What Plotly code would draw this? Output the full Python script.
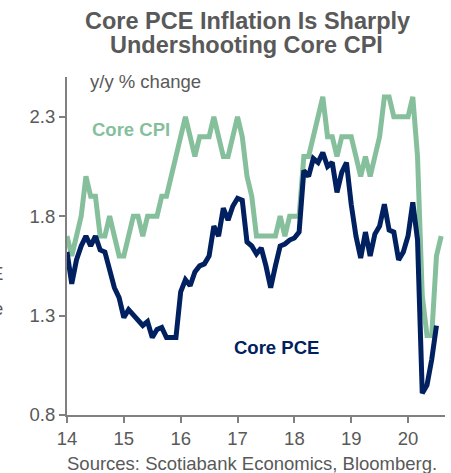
import plotly.graph_objects as go

# Monthly y/y % change, Jan 2014 - Aug 2020 (CPI) / Jul 2020 (PCE)
years = list(range(2014, 2021))

core_cpi = [
    1.7, 1.6, 1.7, 1.8, 2.0, 1.9, 1.9, 1.7, 1.7, 1.8, 1.7, 1.6,  # 2014
    1.6, 1.7, 1.8, 1.8, 1.7, 1.8, 1.8, 1.8, 1.9, 1.9, 2.0, 2.1,  # 2015
    2.2, 2.3, 2.2, 2.1, 2.2, 2.2, 2.2, 2.3, 2.2, 2.1, 2.1, 2.2,  # 2016
    2.3, 2.2, 2.0, 1.9, 1.7, 1.7, 1.7, 1.7, 1.7, 1.8, 1.7, 1.8,  # 2017
    1.8, 1.8, 2.1, 2.1, 2.2, 2.3, 2.4, 2.2, 2.2, 2.1, 2.2, 2.2,  # 2018
    2.2, 2.1, 2.0, 2.1, 2.0, 2.1, 2.2, 2.4, 2.4, 2.3, 2.3, 2.3,  # 2019
    2.3, 2.4, 2.1, 1.4, 1.2, 1.2, 1.6, 1.7,                      # 2020
]

core_pce = [
    1.62, 1.46, 1.58, 1.65, 1.70, 1.65, 1.70, 1.63, 1.62, 1.54, 1.44, 1.39,  # 2014
    1.29, 1.33, 1.30, 1.28, 1.25, 1.27, 1.19, 1.23, 1.24, 1.19, 1.19, 1.19,  # 2015
    1.42, 1.48, 1.45, 1.52, 1.55, 1.56, 1.60, 1.75, 1.70, 1.84, 1.78, 1.85,  # 2016
    1.89, 1.88, 1.67, 1.65, 1.61, 1.64, 1.55, 1.44, 1.55, 1.65, 1.66, 1.68,  # 2017
    1.69, 1.72, 2.03, 2.00, 2.09, 2.07, 2.12, 2.05, 2.07, 1.92, 2.02, 2.07,  # 2018
    1.86, 1.70, 1.59, 1.72, 1.60, 1.71, 1.75, 1.86, 1.73, 1.72, 1.58, 1.62,  # 2019
    1.70, 1.87, 1.68, 0.91, 0.95, 1.08, 1.25,                                # 2020
]

y_ticks = [0.8, 1.3, 1.8, 2.3]
x_tick_labels = [str(y % 100) for y in years]


def month_axis(n):
    return [2014 + i / 12 for i in range(n)]


CPI_COLOR = "#86bf9c"
PCE_COLOR = "#002060"
GREY = "#595959"
AXIS_GREY = "#808080"
FONT = "Liberation Sans, Arial, sans-serif"

fig = go.Figure()
fig.add_trace(go.Scatter(
    x=month_axis(len(core_cpi)), y=core_cpi, mode="lines",
    line=dict(color=CPI_COLOR, width=5), name="Core CPI", showlegend=False,
))
fig.add_trace(go.Scatter(
    x=month_axis(len(core_pce)), y=core_pce, mode="lines",
    line=dict(color=PCE_COLOR, width=5), name="Core PCE", showlegend=False,
))

W, H = 451, 473
L, R, T, B = 67, 6, 77, 58
plot_h = H - T - B


def py(pix):
    """Pixel row -> paper y."""
    return (H - B - pix) / plot_h


def px(pix):
    """Pixel column -> paper x."""
    return (pix - L) / (W - L - R)


annotations = [
    dict(text="<b>Core PCE Inflation Is Sharply</b>", x=px(247), y=py(21),
         font=dict(size=23.5, color=GREY)),
    dict(text="<b>Undershooting Core CPI</b>", x=px(246), y=py(45),
         font=dict(size=23.5, color=GREY)),
    dict(text="y/y % change", x=px(88), y=py(82), xanchor="left",
         font=dict(size=18.5, color=GREY)),
    dict(text="Sources: Scotiabank Economics, Bloomberg.", x=px(252), y=py(463),
         font=dict(size=18.5, color=GREY)),
    dict(text="<b>Core CPI</b>", x=2015.13, y=2.235, xref="x", yref="y",
         font=dict(size=18.5, color=CPI_COLOR)),
    dict(text="<b>Core PCE</b>", x=2017.68, y=1.142, xref="x", yref="y",
         font=dict(size=18.5, color=PCE_COLOR)),
    dict(text="E", x=px(5), y=py(273), xanchor="right",
         font=dict(size=18.5, color=GREY)),
    dict(text="e", x=px(5), y=py(308), xanchor="right",
         font=dict(size=18.5, color=GREY)),
]
for a in annotations:
    a.setdefault("xref", "paper")
    a.setdefault("yref", "paper")
    a.setdefault("xanchor", "center")
    a.setdefault("yanchor", "middle")
    a["showarrow"] = False

fig.update_layout(
    width=W, height=H,
    margin=dict(l=L, r=R, t=T, b=B, pad=0),
    paper_bgcolor="white", plot_bgcolor="white",
    font=dict(family=FONT, size=18.5, color=GREY),
    annotations=annotations,
    xaxis=dict(
        range=[2014, 2020.65], tickvals=years, ticktext=x_tick_labels,
        showgrid=False, zeroline=False, showline=True, linecolor=AXIS_GREY,
        linewidth=2, ticks="outside", ticklen=6, tickwidth=2, tickcolor=AXIS_GREY,
        tickfont=dict(size=18.5, color=GREY),
    ),
    yaxis=dict(
        range=[0.8, 2.5], tickvals=y_ticks, ticktext=[f"{v:.1f}" for v in y_ticks],
        showgrid=False, zeroline=False, showline=True, linecolor=AXIS_GREY,
        linewidth=2, ticks="outside", ticklen=6, tickwidth=2, tickcolor=AXIS_GREY,
        tickfont=dict(size=18.5, color=GREY),
    ),
)

fig.write_html("out.html")
